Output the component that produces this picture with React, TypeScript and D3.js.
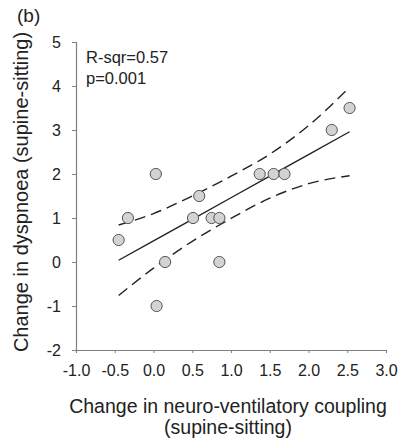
import { useRef, useEffect } from 'react'
import * as d3 from 'd3'

// observed points (change in NVC, change in dyspnoea)
const nvcChange = [-0.45, -0.33, 0.03, 0.04, 0.15, 0.51, 0.59, 0.75, 0.85, 0.85, 1.37, 1.55, 1.69, 2.30, 2.53]
const dyspnoeaChange = [0.5, 1, 2, -1, 0, 1, 1.5, 1, 1, 0, 2, 2, 2, 3, 3.5]

// fitted line and 95% confidence band
const fitX = [-0.45, 0, 0.5, 1.0, 1.5, 2.0, 2.53]
const fitY = [0.04, 0.48, 0.97, 1.46, 1.95, 2.44, 2.96]
const upperY = [0.84, 1.1, 1.5, 1.95, 2.45, 3.1, 3.97]
const lowerY = [-0.76, -0.14, 0.47, 0.99, 1.45, 1.78, 1.96]

const xTicks = [-1.0, -0.5, 0.0, 0.5, 1.0, 1.5, 2.0, 2.5, 3.0]
const yTicks = [-2, -1, 0, 1, 2, 3, 4, 5]

export default function App() {
  const svgRef = useRef<SVGSVGElement>(null)

  useEffect(() => {
    if (!svgRef.current) return
    const svg = d3.select(svgRef.current)
    svg.selectAll('*').remove()

    const font = 'Liberation Sans, Arial, sans-serif'
    const x = d3.scaleLinear().domain([-1, 3]).range([76, 386])
    const y = d3.scaleLinear().domain([-2, 5]).range([350, 42])

    // axes
    const xAxis = svg.append('g')
      .attr('transform', 'translate(0,350)')
      .call(d3.axisBottom(x).tickValues(xTicks).tickSize(3).tickPadding(12))
    const yAxis = svg.append('g')
      .attr('transform', 'translate(76,0)')
      .call(d3.axisLeft(y).tickValues(yTicks).tickSize(4).tickPadding(11))

    xAxis.attr('font-size', 16).attr('font-family', font)
    yAxis.attr('font-size', 16).attr('font-family', font)
    xAxis.selectAll('.tick text').text((d: any) => d3.format('.1f')(d).replace('−', '-'))
    yAxis.selectAll('.tick text').text((d: any) => d3.format('d')(d).replace('−', '-'))

    for (const ax of [xAxis, yAxis]) {
      ax.select('.domain').attr('stroke', '#808080').attr('stroke-width', 1.2)
      ax.selectAll('.tick line').attr('stroke', '#808080')
      ax.selectAll('.tick text').attr('fill', '#222')
    }

    // regression line
    svg.append('path')
      .attr('d', d3.line<number>()
        .x((_, i) => x(fitX[i]))
        .y(d => y(d))(fitY))
      .attr('fill', 'none')
      .attr('stroke', '#222')
      .attr('stroke-width', 1.4)

    for (const band of [upperY, lowerY]) {
      svg.append('path')
        .attr('d', d3.line<number>()
          .x((_, i) => x(fitX[i]))
          .y(d => y(d))
          .curve(d3.curveMonotoneX)(band))
        .attr('fill', 'none')
        .attr('stroke', '#222')
        .attr('stroke-width', 1.4)
        .attr('stroke-dasharray', '11,6')
    }

    // points
    svg.selectAll('.pt')
      .data(nvcChange)
      .enter()
      .append('circle')
      .attr('class', 'pt')
      .attr('cx', d => x(d))
      .attr('cy', (_, i) => y(dyspnoeaChange[i]))
      .attr('r', 5.6)
      .attr('fill', '#d3d3d3')
      .attr('stroke', '#555')
      .attr('stroke-width', 1)

    // annotations
    svg.append('text')
      .attr('x', 17).attr('y', 22)
      .attr('font-size', '19px').attr('font-family', font).attr('fill', '#222')
      .text('(b)')
    svg.append('text')
      .attr('x', 86).attr('y', 63)
      .attr('font-size', '16.5px').attr('font-family', font).attr('fill', '#222')
      .text('R-sqr=0.57')
    svg.append('text')
      .attr('x', 86).attr('y', 84)
      .attr('font-size', '16.5px').attr('font-family', font).attr('fill', '#222')
      .text('p=0.001')

    // axis titles
    svg.append('text')
      .attr('x', 228).attr('y', 413)
      .attr('text-anchor', 'middle')
      .attr('font-size', '19.5px').attr('font-family', font).attr('fill', '#222')
      .text('Change in neuro-ventilatory coupling')
    svg.append('text')
      .attr('x', 228).attr('y', 434)
      .attr('text-anchor', 'middle')
      .attr('font-size', '19.5px').attr('font-family', font).attr('fill', '#222')
      .text('(supine-sitting)')
    svg.append('text')
      .attr('transform', 'translate(28,192) rotate(-90)')
      .attr('text-anchor', 'middle')
      .attr('font-size', '20px').attr('font-family', font).attr('fill', '#222')
      .text('Change in dyspnoea (supine-sitting)')
  }, [])

  return (
    <svg
      ref={svgRef}
      width={398}
      height={448}
      style={{ position: 'absolute', left: 0, top: 0, background: '#fff' }}
    />
  )
}
